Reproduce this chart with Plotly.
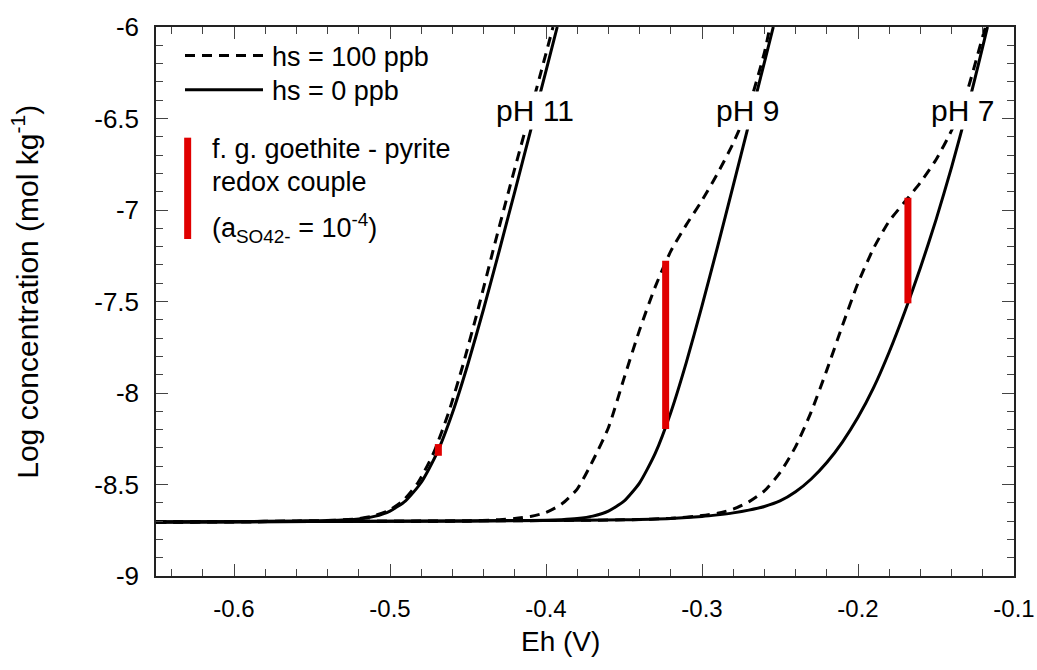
import plotly.graph_objects as go

# Eh axis (V) and log concentration (mol/kg) for each pH, with and without humic substances
PH11_HS0_X = [-0.65, -0.60, -0.56, -0.54, -0.52, -0.51, -0.50, -0.49, -0.48, -0.47, -0.46,
              -0.45, -0.44, -0.43, -0.42, -0.41, -0.40, -0.3928]
PH11_HS0_Y = [-8.705, -8.703, -8.699, -8.697, -8.688, -8.674, -8.645, -8.589, -8.489, -8.330,
              -8.109, -7.840, -7.541, -7.224, -6.899, -6.570, -6.240, -6.0]

PH11_HS100_X = [-0.65, -0.60, -0.56, -0.541, -0.5215, -0.5115, -0.5015, -0.4917, -0.482, -0.4722,
                -0.4625, -0.453, -0.4435, -0.434, -0.424, -0.4135, -0.403, -0.3955]
PH11_HS100_Y = [-8.705, -8.703, -8.699, -8.697, -8.688, -8.674, -8.645, -8.589, -8.489, -8.330,
                -8.109, -7.840, -7.541, -7.224, -6.899, -6.570, -6.240, -6.0]

PH9_HS0_X = [-0.65, -0.55, -0.45, -0.42, -0.40, -0.39, -0.38, -0.37, -0.36, -0.35, -0.34, -0.33,
             -0.32, -0.31, -0.30, -0.29, -0.28, -0.27, -0.26, -0.2543]
PH9_HS0_Y = [-8.705, -8.702, -8.699, -8.697, -8.695, -8.692, -8.686, -8.673, -8.645, -8.591,
             -8.491, -8.330, -8.106, -7.831, -7.524, -7.200, -6.867, -6.531, -6.193, -6.0]

PH9_HS100_X = [-0.65, -0.55, -0.45, -0.43, -0.42, -0.41, -0.40, -0.39, -0.38, -0.37, -0.36, -0.35,
               -0.34, -0.33, -0.32, -0.31, -0.30, -0.29, -0.28, -0.27, -0.26, -0.2565]
PH9_HS100_Y = [-8.705, -8.702, -8.699, -8.692, -8.686, -8.675, -8.653, -8.607, -8.525, -8.370,
               -8.190, -7.920, -7.655, -7.420, -7.225, -7.080, -6.948, -6.800, -6.635, -6.435,
               -6.140, -6.0]

PH7_HS0_X = [-0.65, -0.55, -0.45, -0.40, -0.35, -0.32, -0.30, -0.29, -0.28, -0.27, -0.26, -0.25,
             -0.24, -0.23, -0.22, -0.21, -0.20, -0.19, -0.18, -0.17, -0.16, -0.15, -0.14, -0.13,
             -0.12, -0.117]
PH7_HS0_Y = [-8.705, -8.702, -8.699, -8.697, -8.693, -8.686, -8.675, -8.666, -8.655, -8.640,
             -8.620, -8.590, -8.540, -8.470, -8.380, -8.268, -8.133, -7.971, -7.776, -7.556,
             -7.316, -7.054, -6.766, -6.451, -6.106, -6.0]

PH7_HS100_X = [-0.65, -0.55, -0.45, -0.40, -0.35, -0.32, -0.30, -0.29, -0.28, -0.27, -0.26, -0.25,
               -0.24, -0.23, -0.22, -0.21, -0.20, -0.19, -0.18, -0.17, -0.16, -0.15, -0.14, -0.13,
               -0.12, -0.1183]
PH7_HS100_Y = [-8.705, -8.702, -8.699, -8.697, -8.693, -8.685, -8.670, -8.657, -8.635, -8.595,
               -8.535, -8.435, -8.293, -8.103, -7.875, -7.632, -7.399, -7.209, -7.061, -6.955,
               -6.850, -6.725, -6.565, -6.350, -6.050, -6.0]

# goethite - pyrite redox couple (a_SO4 = 1e-4) at each pH
COUPLE_EH = [-0.469, -0.3233, -0.168]
COUPLE_TOP = [-8.279, -7.277, -6.933]
COUPLE_BOTTOM = [-8.343, -8.197, -7.510]

PH_LABELS = ["pH 11", "pH 9", "pH 7"]
PH_LABEL_X = [-0.434, -0.2931, -0.1551]
PH_LABEL_Y = [-6.454, -6.454, -6.454]

X_TICKS = [-0.6, -0.5, -0.4, -0.3, -0.2, -0.1]
X_TICK_TEXT = ["-0.6", "-0.5", "-0.4", "-0.3", "-0.2", "-0.1"]
Y_TICKS = [-9, -8.5, -8, -7.5, -7, -6.5, -6]
Y_TICK_TEXT = ["-9", "-8.5", "-8", "-7.5", "-7", "-6.5", "-6"]

FONT = "Liberation Sans, Arial, Helvetica, sans-serif"
NARROW = "Liberation Sans Narrow, Arial Narrow, Liberation Sans, Arial, sans-serif"
RED = "#E00000"
INK = "#000000"

fig = go.Figure()

curves = [
    (PH11_HS0_X, PH11_HS0_Y, "solid"),
    (PH11_HS100_X, PH11_HS100_Y, "10px,7px"),
    (PH9_HS0_X, PH9_HS0_Y, "solid"),
    (PH9_HS100_X, PH9_HS100_Y, "10px,7px"),
    (PH7_HS0_X, PH7_HS0_Y, "solid"),
    (PH7_HS100_X, PH7_HS100_Y, "10px,7px"),
]
for xs, ys, dash in curves:
    fig.add_trace(go.Scatter(
        x=xs, y=ys, mode="lines",
        line=dict(color=INK, width=3, dash=dash, shape="spline", smoothing=0.6),
        showlegend=False, hoverinfo="skip",
    ))

# vertical red bars for the redox couple
bar_x, bar_y = [], []
for eh, top, bottom in zip(COUPLE_EH, COUPLE_TOP, COUPLE_BOTTOM):
    bar_x += [eh, eh, None]
    bar_y += [bottom, top, None]
fig.add_trace(go.Scatter(
    x=bar_x, y=bar_y, mode="lines",
    line=dict(color=RED, width=7),
    showlegend=False, hoverinfo="skip",
))

annotations = []
for label, lx, ly in zip(PH_LABELS, PH_LABEL_X, PH_LABEL_Y):
    annotations.append(dict(
        x=lx, y=ly, xref="x", yref="y", text=label, showarrow=False,
        xanchor="left", yanchor="middle", bgcolor="white", borderpad=2,
        font=dict(family=FONT, size=30, color=INK),
    ))

# hand-built key in the upper left corner
key_texts = [
    ("hs = 100 ppb", 0.1329, 0.946),
    ("hs = 0 ppb", 0.1329, 0.883),
    ("f. g. goethite - pyrite", 0.0629, 0.778),
    ("redox couple", 0.0629, 0.718),
    ("(a<sub>SO42-</sub> = 10<sup>-4</sup>)", 0.0629, 0.634),
]
for txt, kx, ky in key_texts:
    annotations.append(dict(
        x=kx, y=ky, xref="paper", yref="paper", text=txt, showarrow=False,
        xanchor="left", yanchor="middle",
        font=dict(family=FONT, size=27, color=INK),
    ))

# axis titles
annotations.append(dict(
    x=0.471, y=-0.120, xref="paper", yref="paper", text="Eh (V)", showarrow=False,
    xanchor="center", yanchor="middle", font=dict(family=NARROW, size=28, color=INK),
))
annotations.append(dict(
    x=-0.152, y=0.517, xref="paper", yref="paper",
    text="Log concentration (mol kg<sup>-1</sup>)", showarrow=False, textangle=-90,
    xanchor="center", yanchor="middle", font=dict(family=FONT, size=30, color=INK),
))

shapes = [
    dict(type="line", xref="paper", yref="paper", x0=0.0338, x1=0.1247, y0=0.948, y1=0.948,
         line=dict(color=INK, width=3, dash="10px,7px")),
    dict(type="line", xref="paper", yref="paper", x0=0.0338, x1=0.1247, y0=0.8855, y1=0.8855,
         line=dict(color=INK, width=3)),
    dict(type="line", xref="paper", yref="paper", x0=0.0369, x1=0.0369, y0=0.6138, y1=0.7984,
         line=dict(color=RED, width=7)),
]

axis_common = dict(
    showline=True, linecolor="#222", linewidth=1.5, mirror="ticks",
    ticks="inside", ticklen=12, tickwidth=1.2, tickcolor="#444",
    showgrid=False, zeroline=False, automargin=False,
)

fig.update_layout(
    width=1037, height=670,
    margin=dict(l=156, r=23, t=27, b=94),
    paper_bgcolor="white", plot_bgcolor="white",
    xaxis=dict(range=[-0.65, -0.1], tickvals=X_TICKS, ticktext=X_TICK_TEXT,
               minor=dict(ticks="inside", ticklen=7, tickwidth=1.2, tickcolor="#444",
                          dtick=0.02, tick0=-0.6),
               tickfont=dict(family=NARROW, size=24, color=INK),
               ticklabelstandoff=10, **axis_common),
    yaxis=dict(range=[-9, -6], tickvals=Y_TICKS, ticktext=Y_TICK_TEXT,
               minor=dict(ticks="inside", ticklen=7, tickwidth=1.2, tickcolor="#444",
                          dtick=0.1, tick0=-9),
               tickfont=dict(family=FONT, size=26, color=INK),
               ticklabelstandoff=10, **axis_common),
    annotations=annotations,
    shapes=shapes,
    showlegend=False,
)

fig.write_html("out.html")
